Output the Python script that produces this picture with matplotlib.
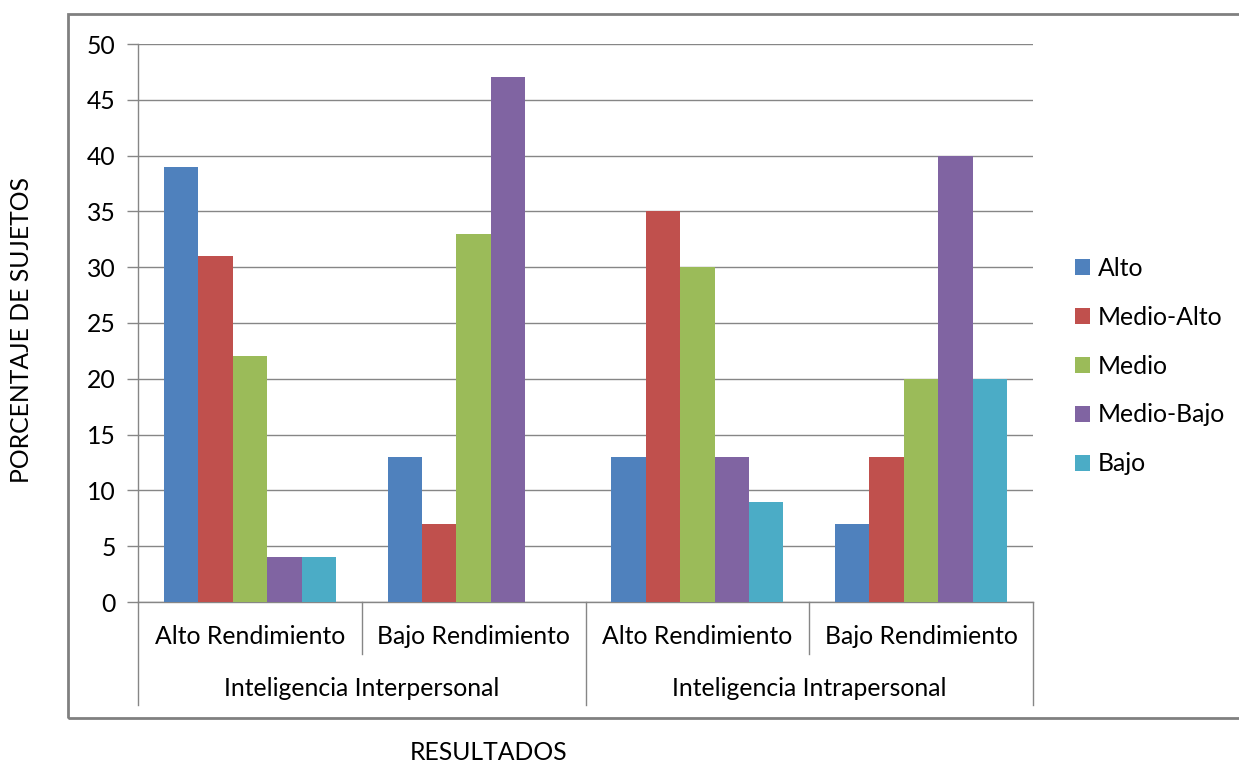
import matplotlib.pyplot as plt
from matplotlib.patches import Rectangle
from matplotlib.transforms import blended_transform_factory
import numpy as np

plt.rcParams['font.family'] = ['Lato', 'DejaVu Sans']

# Data
series = ['Alto', 'Medio-Alto', 'Medio', 'Medio-Bajo', 'Bajo']
subgroups = ['Alto Rendimiento', 'Bajo Rendimiento', 'Alto Rendimiento', 'Bajo Rendimiento']
groups = ['Inteligencia Interpersonal', 'Inteligencia Intrapersonal']
alto = [39, 13, 13, 7]
medio_alto = [31, 7, 35, 13]
medio = [22, 33, 30, 20]
medio_bajo = [4, 47, 13, 40]
bajo = [4, 0, 9, 20]
values = [alto, medio_alto, medio, medio_bajo, bajo]
colors = ['#4F81BD', '#C0504D', '#9BBB59', '#8064A2', '#4BACC6']

FS = 17.8
W, H = 1239, 762
fig = plt.figure(figsize=(W / 100, H / 100), dpi=100)

# outer chart frame
fig.patches.append(Rectangle((68 / W, 1 - 718 / H), (1250 - 68) / W, (718 - 14) / H,
                             transform=fig.transFigure, fill=False,
                             edgecolor='#808080', linewidth=2))

ax = fig.add_axes([138 / W, 1 - 602 / H, (1033 - 138) / W, (602 - 44) / H])

n = len(series)
bw = 1 / (n + 1.5)
x = np.arange(len(subgroups))
for i, (name, vals) in enumerate(zip(series, values)):
    ax.bar(x - 0.5 + 0.75 * bw + i * bw + bw / 2, vals, width=bw,
           color=colors[i], label=name, zorder=3)

ax.set_xlim(-0.5, len(subgroups) - 0.5)
ax.set_ylim(0, 50)
ax.set_yticks(range(0, 51, 5))
ax.yaxis.grid(True, color='#868686', linewidth=1, zorder=0)
ax.tick_params(axis='y', length=8, width=1, color='#868686', labelsize=FS,
               labelcolor='#000000', pad=8)
ax.set_xticks([])
for s in ['top', 'right']:
    ax.spines[s].set_visible(False)
for s in ['left', 'bottom']:
    ax.spines[s].set_color('#868686')
    ax.spines[s].set_linewidth(1)

# hierarchical category axis
tr = blended_transform_factory(ax.transData, ax.transAxes)
lo1 = -(654 - 602) / 558
lo2 = -(705 - 602) / 558
for xb in [-0.5, 1.5, 3.5]:
    ax.plot([xb, xb], [0, lo2], transform=tr, color='#868686', lw=1, clip_on=False)
for xb in [0.5, 2.5]:
    ax.plot([xb, xb], [0, lo1], transform=tr, color='#868686', lw=1, clip_on=False)
for xi, lab in zip(x, subgroups):
    ax.text(xi, -(637 - 602) / 558, lab, transform=tr, ha='center', va='center',
            fontsize=FS, color='#000000')
for gi, lab in enumerate(groups):
    ax.text(0.5 + 2 * gi, -(689 - 602) / 558, lab, transform=tr, ha='center',
            va='center', fontsize=FS, color='#000000')

# legend
ax.legend(loc='center left', bbox_to_anchor=(1053 / W, 1 - 366 / H),
          bbox_transform=fig.transFigure, frameon=False, fontsize=FS,
          handlelength=0.6, handleheight=0.6, handletextpad=0.3, labelspacing=1.05)

fig.text(22 / W, 1 - 330 / H, 'PORCENTAJE DE SUJETOS', rotation=90,
         ha='center', va='center', fontsize=FS)
fig.text(489 / W, 1 - 752 / H, 'RESULTADOS', ha='center', va='center', fontsize=FS)

fig.savefig('out.png', dpi=100)
